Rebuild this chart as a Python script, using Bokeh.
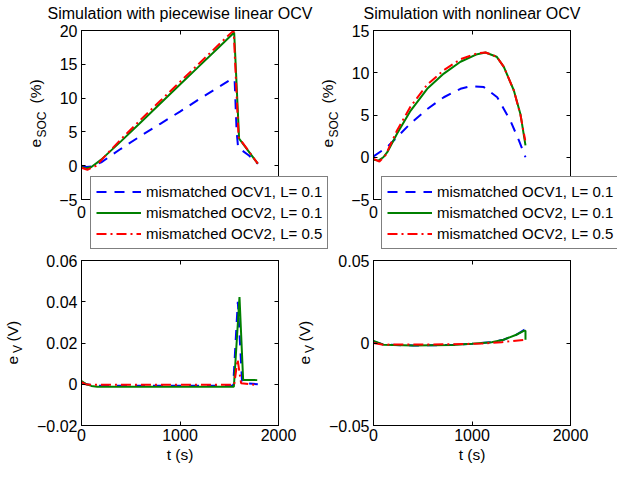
import math
import numpy as np
from bokeh.plotting import figure
from bokeh.models import (Label, Legend, LegendItem, LinearAxis, FixedTicker,
                          Range1d, CustomJSTickFormatter)
from bokeh.layouts import row, column
from bokeh.embed import file_html
from bokeh.resources import INLINE

FONT = "Liberation Sans"

# ---------------- data ----------------
x_ticks = [0, 1000, 2000]

# Top-left: SOC error (%), piecewise linear OCV
t_tl_ocv1_l01 = [0, 50, 100, 200, 300, 400, 600, 800, 1000, 1200, 1400, 1530, 1555, 1575, 1590, 1700, 1790]
e_tl_ocv1_l01 = [0.0, -0.2, -0.1, 0.5, 1.5, 2.5, 4.4, 6.2, 8.0, 9.9, 11.7, 12.9, 12.5, 5.0, 2.7, 1.5, 0.3]
t_tl_ocv2_l01 = [0, 40, 100, 200, 400, 600, 800, 1000, 1200, 1400, 1550, 1600, 1790]
e_tl_ocv2_l01 = [-0.2, -0.4, -0.2, 0.9, 3.6, 6.4, 9.2, 12.0, 14.8, 17.6, 19.7, 4.0, 0.3]
t_tl_ocv2_l05 = [0, 60, 150, 250, 400, 600, 800, 1000, 1200, 1400, 1530, 1545, 1595, 1790]
e_tl_ocv2_l05 = [-0.3, -0.6, 0.0, 1.6, 3.9, 6.8, 9.6, 12.4, 15.2, 18.0, 19.8, 19.9, 4.2, 0.3]
yt_tl = [-5, 0, 5, 10, 15, 20]
yl_tl = ["\u22125", "0", "5", "10", "15", "20"]

# Top-right: SOC error (%), nonlinear OCV
t_tr_ocv1_l01 = [0, 139, 376, 545, 714, 883, 985, 1120, 1256, 1391, 1476, 1543]
e_tr_ocv1_l01 = [0.1, 1.2, 4.0, 5.7, 7.1, 8.1, 8.4, 8.3, 7.1, 4.3, 2.0, 0.0]
t_tr_ocv2_l01 = [0, 50, 100, 140, 240, 376, 545, 714, 883, 1053, 1137, 1250, 1323, 1425, 1492, 1543]
e_tr_ocv2_l01 = [-0.3, -0.4, 0.0, 0.6, 2.8, 5.5, 8.1, 9.9, 11.3, 12.2, 12.4, 11.9, 10.7, 7.9, 5.1, 1.4]
t_tr_ocv2_l05 = [0, 60, 120, 240, 376, 545, 714, 883, 1053, 1137, 1250, 1323, 1425, 1492, 1540]
e_tr_ocv2_l05 = [-0.2, -0.5, 0.2, 3.2, 6.0, 8.6, 10.3, 11.6, 12.3, 12.4, 11.9, 10.7, 7.9, 5.0, 2.0]
yt_tr = [-5, 0, 5, 10, 15]
yl_tr = ["\u22125", "0", "5", "10", "15"]

# Bottom-left: voltage error (V), piecewise linear OCV
t_bl_ocv1_l01 = [0, 50, 150, 1540, 1587, 1630, 1680, 1790]
v_bl_ocv1_l01 = [0.001, 0.0, -0.0007, -0.0007, 0.040, 0.001, 0.0005, 0.0]
t_bl_ocv2_l01 = [0, 50, 100, 160, 1547, 1604, 1641, 1784]
v_bl_ocv2_l01 = [0.0015, 0.0, -0.0008, -0.0012, -0.0012, 0.0423, 0.0021, 0.002]
t_bl_ocv2_l05 = [0, 40, 100, 1550, 1585, 1620, 1790]
v_bl_ocv2_l05 = [0.001, 0.0, -0.0003, -0.0003, 0.012, 0.0005, -0.0005]
yt_bl = [-0.02, 0, 0.02, 0.04, 0.06]
yl_bl = ["\u22120.02", "0", "0.02", "0.04", "0.06"]

# Bottom-right: voltage error (V), nonlinear OCV
t_br_ocv1_l01 = [0, 100, 400, 800, 1000, 1200, 1320, 1450, 1530, 1543]
v_br_ocv1_l01 = [0.001, -0.001, -0.0015, -0.0012, -0.0005, 0.0005, 0.002, 0.005, 0.008, 0.008]
t_br_ocv2_l01 = [0, 100, 400, 800, 1000, 1200, 1320, 1450, 1530, 1543, 1543]
v_br_ocv2_l01 = [0.0013, -0.001, -0.0015, -0.0012, -0.0005, 0.0005, 0.002, 0.005, 0.0075, 0.0075, 0.002]
t_br_ocv2_l05 = [0, 100, 800, 1100, 1300, 1543]
v_br_ocv2_l05 = [0.0, -0.001, -0.0008, -0.0003, 0.0005, 0.002]
yt_br = [-0.05, 0, 0.05]
yl_br = ["\u22120.05", "0", "0.05"]

titles = ["Simulation with piecewise linear OCV", "Simulation with nonlinear OCV"]
legend_labels = ["mismatched OCV1, L= 0.1", "mismatched OCV2, L= 0.1", "mismatched OCV2, L= 0.5"]
colors = ["#0000ff", "#008000", "#ff0000"]
dashes = ["10 8", "solid", "10 4 2 4"]

TICK_FS = "16px"
TITLE_FS = "16px"
TEXT_FS = "15.5px"
SUB_FS = "12px"
W, H = 617, 464


def style_axis(ax, ticks, labels=None, hidden=False, standoff=4):
    ax.ticker = FixedTicker(ticks=ticks)
    ax.major_tick_in = 4
    ax.major_tick_out = 0
    ax.minor_tick_line_color = None
    ax.axis_line_color = "black"
    ax.axis_line_width = 1
    ax.major_tick_line_color = "black"
    ax.major_label_text_font = FONT
    ax.major_label_text_color = "black"
    if hidden:
        ax.formatter = CustomJSTickFormatter(code="return '';")
        ax.major_label_text_font_size = "0px"
        ax.major_label_standoff = 0
    else:
        ax.major_label_text_font_size = TICK_FS
        ax.major_label_standoff = standoff
        if labels is not None:
            ax.major_label_overrides = {k: v for k, v in zip(ticks, labels)}


def panel(width, height, mb, yr, yticks, ylabels, series, xlabels, xstand):
    p = figure(width=width, height=height, x_range=Range1d(0, 2000), y_range=Range1d(*yr),
               output_backend="svg", toolbar_location=None,
               min_border_left=mb[0], min_border_right=mb[1],
               min_border_top=mb[2], min_border_bottom=mb[3],
               border_fill_color=None, background_fill_color="white",
               outline_line_color="black")
    p.xgrid.visible = False
    p.ygrid.visible = False
    style_axis(p.xaxis[0], x_ticks, labels=xlabels, standoff=xstand)
    style_axis(p.yaxis[0], yticks, labels=ylabels, standoff=4)
    top = LinearAxis()
    right = LinearAxis()
    style_axis(top, x_ticks, hidden=True)
    style_axis(right, yticks, hidden=True)
    p.add_layout(top, "above")
    p.add_layout(right, "right")
    for (t, v), c, d in zip(series, colors, dashes):
        p.line(t, v, line_color=c, line_width=2, line_dash=d)
    return p


top_xl = ["0", "", ""]
bot_xl = ["0", "1000", "2000"]

tl = panel(310, 248, (81, 32, 30, 49), (-5, 20), yt_tl, yl_tl,
           [(t_tl_ocv1_l01, e_tl_ocv1_l01), (t_tl_ocv2_l01, e_tl_ocv2_l01), (t_tl_ocv2_l05, e_tl_ocv2_l05)],
           top_xl, 6)
tr = panel(307, 248, (63, 47, 30, 49), (-5, 15), yt_tr, yl_tr,
           [(t_tr_ocv1_l01, e_tr_ocv1_l01), (t_tr_ocv2_l01, e_tr_ocv2_l01), (t_tr_ocv2_l05, e_tr_ocv2_l05)],
           top_xl, 6)
bl = panel(310, 216, (81, 32, 12, 39), (-0.02, 0.06), yt_bl, yl_bl,
           [(t_bl_ocv1_l01, v_bl_ocv1_l01), (t_bl_ocv2_l01, v_bl_ocv2_l01), (t_bl_ocv2_l05, v_bl_ocv2_l05)],
           bot_xl, 3)
br = panel(307, 216, (63, 47, 12, 39), (-0.05, 0.05), yt_br, yl_br,
           [(t_br_ocv1_l01, v_br_ocv1_l01), (t_br_ocv2_l01, v_br_ocv2_l01), (t_br_ocv2_l05, v_br_ocv2_l05)],
           bot_xl, 3)

# ---------- transparent annotation layer on top of the four panels ----------
ov = figure(width=W, height=H, x_range=Range1d(0, 1), y_range=Range1d(0, 1),
            output_backend="svg", toolbar_location=None,
            x_axis_location=None, y_axis_location=None,
            min_border_left=0, min_border_right=0, min_border_top=0, min_border_bottom=0,
            border_fill_color=None, background_fill_color=None, outline_line_color=None,
            margin=(-H, 0, 0, 0))
ov.xgrid.visible = False
ov.ygrid.visible = False


def olab(text, x, y, size=TEXT_FS, angle=0.0, align="left"):
    # x, y: pixel position from the top-left of the whole chart
    ov.add_layout(Label(x=x, y=H - y, x_units="screen", y_units="screen", text=text,
                        angle=angle, text_align=align, text_baseline="alphabetic",
                        text_font=FONT, text_font_size=size, text_color="black"))


ROT = math.pi / 2
# titles
olab(titles[0], 179.5, 12.5, size=TITLE_FS, align="center")
olab(titles[1], 471.5, 12.5, size=TITLE_FS, align="center")
# y labels: e_SOC (%)
for fx in (81, 373):
    olab("e", fx - 46, 147, angle=ROT)
    olab("SOC", fx - 40, 137, size=SUB_FS, angle=ROT)
    olab("(%)", fx - 46, 103, angle=ROT)
# y labels: e_V (V)
for fx in (81, 373):
    olab("e", fx - 69, 364, angle=ROT)
    olab("V", fx - 64, 352.5, size=SUB_FS, angle=ROT)
    olab("(V)", fx - 69, 341, angle=ROT)
# x labels
olab("t (s)", 179.5, 454, align="center")
olab("t (s)", 471.5, 454, align="center")

# legends (line samples share the styles of the plotted series)
proxies = [ov.line(np.array([np.nan]), np.array([np.nan]), line_color=c, line_width=2, line_dash=d)
           for c, d in zip(colors, dashes)]
for lx in (90, 381):
    leg = Legend(items=[LegendItem(label=l, renderers=[r]) for l, r in zip(legend_labels, proxies)],
                 location=(lx, H - 249), label_text_font=FONT, label_text_font_size="15px",
                 label_text_color="black", glyph_width=45, glyph_height=19,
                 label_height=19, label_standoff=5, spacing=2, padding=5, margin=0,
                 border_line_color="black", border_line_width=1,
                 background_fill_color="white", background_fill_alpha=1.0)
    ov.add_layout(leg)

layout = column(row(tl, tr), row(bl, br), ov)

open("out.html", "w").write(file_html(layout, INLINE))
